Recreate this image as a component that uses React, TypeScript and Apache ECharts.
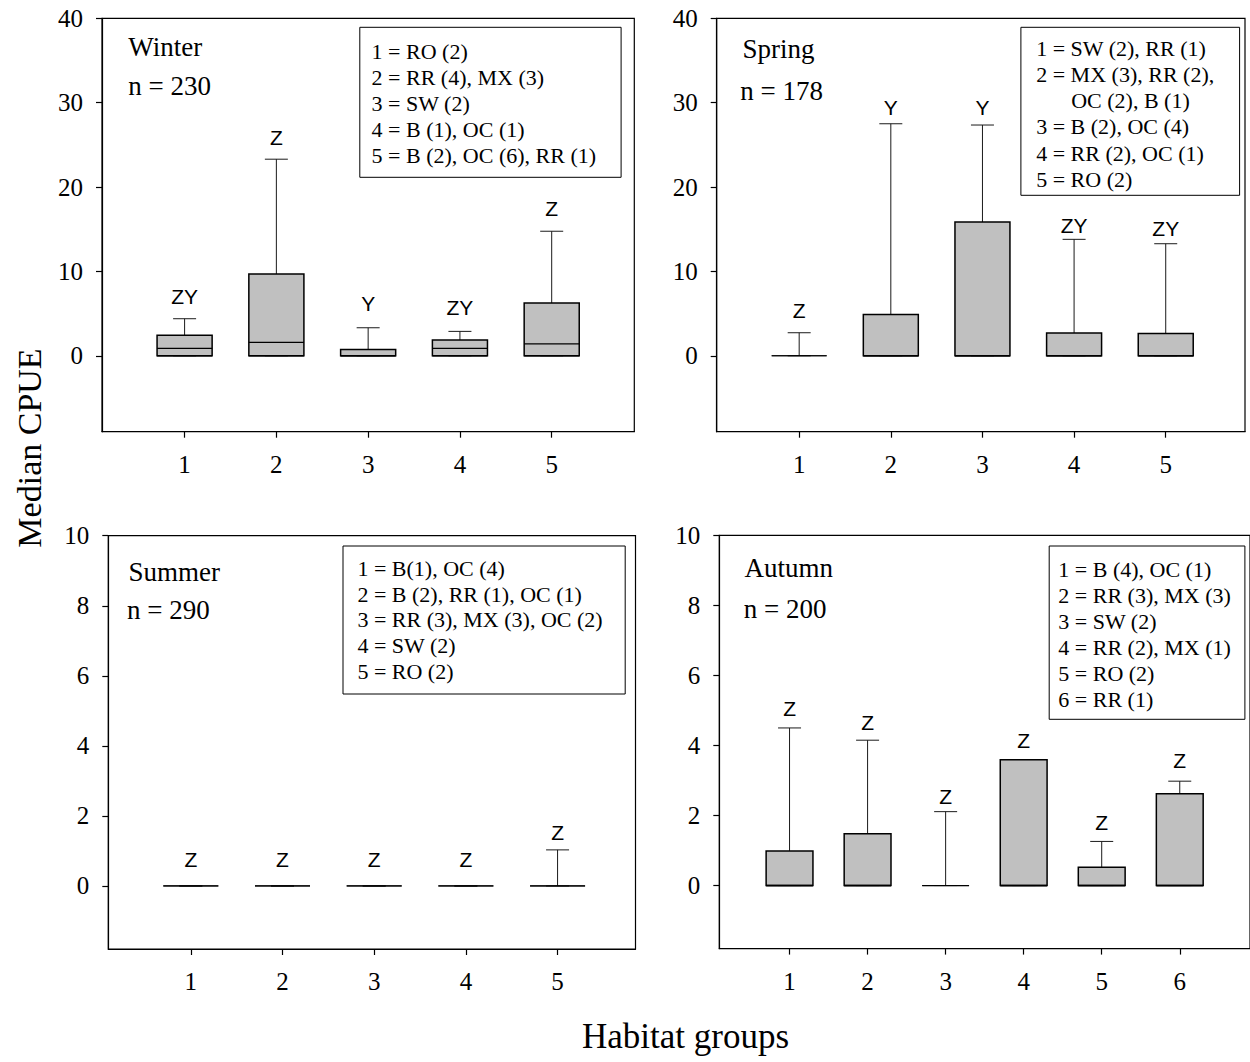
import React, { useEffect, useRef } from "react";
import * as echarts from "echarts";

// ---------- data ----------
const ticks5 = [1, 2, 3, 4, 5];
const ticks6 = [1, 2, 3, 4, 5, 6];
const ticksBig = [0, 10, 20, 30, 40];
const ticksSmall = [0, 2, 4, 6, 8, 10];

// Winter
const winterGroups = [1, 2, 3, 4, 5];
const winterLow = [0, 0, 0, 0, 0];
const winterQ1 = [0, 0, 0, 0, 0];
const winterMedian = [0.87, 1.59, 0, 0.87, 1.42];
const winterQ3 = [2.42, 9.69, 0.75, 1.86, 6.25];
const winterHigh = [4.39, 23.3, 3.32, 2.89, 14.76];
const winterLetters = ["ZY", "Z", "Y", "ZY", "Z"];
const winterLetterY = [7.0, 25.85, 6.21, 5.74, 17.47];
const winterLegend = ["1 = RO (2)", "2 = RR (4), MX (3)", "3 = SW (2)", "4 = B (1), OC (1)", "5 = B (2), OC (6), RR (1)"];

// Spring
const springGroups = [1, 2, 3, 4, 5];
const springLow = [0, 0, 0, 0, 0];
const springQ1 = [0, 0, 0, 0, 0];
const springMedian = [0, 0, 0, 0, 0];
const springQ3 = [0, 4.9, 15.85, 2.69, 2.65];
const springHigh = [2.73, 27.5, 27.35, 13.8, 13.28];
const springLetters = ["Z", "Y", "Y", "ZY", "ZY"];
const springLetterY = [5.42, 29.45, 29.45, 15.5, 15.1];
const springLegend = ["1 = SW (2), RR (1)", "2 = MX (3), RR (2),", "OC (2), B (1)", "3 = B (2), OC (4)", "4 = RR (2), OC (1)", "5 = RO (2)"];

// Summer
const summerGroups = [1, 2, 3, 4, 5];
const summerLow = [0, 0, 0, 0, 0];
const summerQ1 = [0, 0, 0, 0, 0];
const summerMedian = [0, 0, 0, 0, 0];
const summerQ3 = [0, 0, 0, 0, 0];
const summerHigh = [0, 0, 0, 0, 1.03];
const summerLetters = ["Z", "Z", "Z", "Z", "Z"];
const summerLetterY = [0.76, 0.76, 0.76, 0.76, 1.52];
const summerLegend = ["1 = B(1), OC (4)", "2 = B (2), RR (1), OC (1)", "3 = RR (3), MX (3), OC (2)", "4 = SW (2)", "5 = RO (2)"];

// Autumn
const autumnGroups = [1, 2, 3, 4, 5, 6];
const autumnLow = [0, 0, 0, 0, 0, 0];
const autumnQ1 = [0, 0, 0, 0, 0, 0];
const autumnMedian = [0, 0, 0, 0, 0, 0];
const autumnQ3 = [0.99, 1.48, 0, 3.59, 0.52, 2.62];
const autumnHigh = [4.5, 4.15, 2.11, 3.59, 1.26, 2.98];
const autumnLetters = ["Z", "Z", "Z", "Z", "Z", "Z"];
const autumnLetterY = [5.05, 4.65, 2.54, 4.14, 1.81, 3.57];
const autumnLegend = ["1 = B (4), OC (1)", "2 = RR (3), MX (3)", "3 = SW (2)", "4 = RR (2), MX (1)", "5 = RO (2)", "6 = RR (1)"];

const panelTitles = ["Winter", "Spring", "Summer", "Autumn"];
const panelN = ["n = 230", "n = 178", "n = 290", "n = 200"];

// ---------- styles ----------
const SERIF = "Liberation Serif";
const SANS = "Liberation Sans";

type Panel = {
  groups: number[]; low: number[]; q1: number[]; med: number[]; q3: number[]; high: number[];
  letters: string[]; letterY: number[];
  grid: { left: number; top: number; width: number; height: number };
  xMin: number; xMax: number; xTicks: number[];
  yMin: number; yMax: number; yTicks: number[];
};

const panels: Panel[] = [
  {
    groups: winterGroups, low: winterLow, q1: winterQ1, med: winterMedian, q3: winterQ3, high: winterHigh,
    letters: winterLetters, letterY: winterLetterY,
    grid: { left: 102, top: 18.3, width: 532.3, height: 413.4 },
    xMin: 0.1, xMax: 5.9, xTicks: ticks5, yMin: -9, yMax: 40, yTicks: ticksBig,
  },
  {
    groups: springGroups, low: springLow, q1: springQ1, med: springMedian, q3: springQ3, high: springHigh,
    letters: springLetters, letterY: springLetterY,
    grid: { left: 716.7, top: 18.3, width: 528.3, height: 413.4 },
    xMin: 0.1, xMax: 5.865, xTicks: ticks5, yMin: -9, yMax: 40, yTicks: ticksBig,
  },
  {
    groups: summerGroups, low: summerLow, q1: summerQ1, med: summerMedian, q3: summerQ3, high: summerHigh,
    letters: summerLetters, letterY: summerLetterY,
    grid: { left: 108.3, top: 535.7, width: 527.2, height: 413.3 },
    xMin: 0.1, xMax: 5.85, xTicks: ticks5, yMin: -1.8, yMax: 10, yTicks: ticksSmall,
  },
  {
    groups: autumnGroups, low: autumnLow, q1: autumnQ1, med: autumnMedian, q3: autumnQ3, high: autumnHigh,
    letters: autumnLetters, letterY: autumnLetterY,
    grid: { left: 719.3, top: 535.3, width: 532, height: 413.3 },
    xMin: 0.1, xMax: 6.9, xTicks: ticks6, yMin: -1.8, yMax: 10, yTicks: ticksSmall,
  },
];

function boxRenderItem(params: any, api: any) {
  const x = api.value(0);
  const low = api.value(1), q1 = api.value(2), med = api.value(3), q3 = api.value(4), high = api.value(5);
  const unit = api.size([1, 0])[0];
  const half = unit * 0.3;
  const cap = 11.5;
  const cx = api.coord([x, 0])[0];
  const yLow = api.coord([x, low])[1];
  const yQ1 = api.coord([x, q1])[1];
  const yMed = api.coord([x, med])[1];
  const yQ3 = api.coord([x, q3])[1];
  const yHigh = api.coord([x, high])[1];
  const thin = { stroke: "#1a1a1a", lineWidth: 1 };
  const children: any[] = [
    { type: "line", shape: { x1: cx, y1: yQ3, x2: cx, y2: yHigh }, style: thin },
    { type: "line", shape: { x1: cx - cap, y1: yHigh, x2: cx + cap, y2: yHigh }, style: thin },
    { type: "line", shape: { x1: cx, y1: yQ1, x2: cx, y2: yLow }, style: thin },
    { type: "line", shape: { x1: cx - cap, y1: yLow, x2: cx + cap, y2: yLow }, style: thin },
  ];
  if (yQ1 - yQ3 > 0.5) {
    children.push({
      type: "rect",
      shape: { x: cx - half, y: yQ3, width: 2 * half, height: yQ1 - yQ3 },
      style: { fill: "#c0c0c0", stroke: "#000", lineWidth: 1.5 },
    });
  }
  children.push({ type: "line", shape: { x1: cx - half, y1: yQ1, x2: cx + half, y2: yQ1 }, style: { stroke: "#000", lineWidth: yQ1 - yQ3 > 0.5 ? 1.5 : 1 } });
  children.push({ type: "line", shape: { x1: cx - half, y1: yMed, x2: cx + half, y2: yMed }, style: { stroke: "#000", lineWidth: 1.2 } });
  return { type: "group", children };
}

function letterRenderItem(letters: string[]) {
  return (params: any, api: any) => {
    const p = api.coord([api.value(0), api.value(1)]);
    return {
      type: "text",
      x: p[0],
      y: p[1],
      style: {
        text: letters[params.dataIndex],
        fontSize: 21,
        fontFamily: SANS,
        fill: "#000",
        align: "center",
        verticalAlign: "middle",
      },
    };
  };
}

function serifText(text: string, x: number, y: number, size: number, extra: any = {}) {
  const align = extra.align || "left";
  const { align: _a, ...rest } = extra;
  return {
    type: "text",
    x,
    y,
    ...rest,
    style: {
      text,
      fontSize: size,
      fontFamily: SERIF,
      fill: "#000",
      align,
      verticalAlign: "middle",
    },
  };
}

function legendGraphic(lines: string[], box: number[], textX: number, firstY: number, step: number, indentIdx: number[] = [], indent = 0) {
  const out: any[] = [
    {
      type: "rect",
      shape: { x: box[0], y: box[1], width: box[2], height: box[3] },
      style: { fill: "#fff", stroke: "#000", lineWidth: 1 },
      z: 10,
    },
  ];
  lines.forEach((t, i) => {
    const el: any = serifText(t, textX + (indentIdx.includes(i) ? indent : 0), firstY + i * step, 22);
    el.z = 11;
    out.push(el);
  });
  return out;
}

export default function App() {
  const ref = useRef<HTMLDivElement>(null);
  useEffect(() => {
    if (!ref.current) return;
    const chart = echarts.init(ref.current, undefined, { renderer: "svg" });
    const axisLineStyle = { color: "#000", width: 1.2 };
    const grids = panels.map((p) => ({
      ...p.grid,
      show: true,
      borderColor: "#000",
      borderWidth: 1.2,
      containLabel: false,
    }));
    const xAxes = panels.map((p, i) => ({
      type: "value",
      gridIndex: i,
      min: p.xMin,
      max: p.xMax,
      axisLine: { show: true, onZero: false, lineStyle: axisLineStyle },
      axisTick: { show: true, inside: false, length: 6, customValues: p.xTicks, lineStyle: axisLineStyle },
      axisLabel: { show: true, customValues: p.xTicks, margin: 20, fontSize: 25, fontFamily: SERIF, color: "#000" },
      splitLine: { show: false },
    }));
    const yAxes = panels.map((p, i) => ({
      type: "value",
      gridIndex: i,
      min: p.yMin,
      max: p.yMax,
      axisLine: { show: true, onZero: false, lineStyle: axisLineStyle },
      axisTick: { show: true, inside: false, length: 6, customValues: p.yTicks, lineStyle: axisLineStyle },
      axisLabel: { show: true, customValues: p.yTicks, margin: 19, fontSize: 25, fontFamily: SERIF, color: "#000" },
      splitLine: { show: false },
    }));
    const series: any[] = [];
    panels.forEach((p, i) => {
      series.push({
        type: "custom",
        xAxisIndex: i,
        yAxisIndex: i,
        renderItem: boxRenderItem,
        encode: { x: 0, y: [1, 2, 3, 4, 5] },
        data: p.groups.map((g, k) => [g, p.low[k], p.q1[k], p.med[k], p.q3[k], p.high[k]]),
        clip: false,
        z: 3,
      });
      series.push({
        type: "custom",
        xAxisIndex: i,
        yAxisIndex: i,
        renderItem: letterRenderItem(p.letters),
        encode: { x: 0, y: 1 },
        data: p.groups.map((g, k) => [g, p.letterY[k]]),
        clip: false,
        z: 4,
      });
    });

    const graphic: any[] = [
      serifText(panelTitles[0], 128.3, 46.7, 27),
      serifText(panelN[0], 128.3, 85.7, 27),
      serifText(panelTitles[1], 742.5, 49, 27),
      serifText(panelN[1], 740.3, 90.5, 27),
      serifText(panelTitles[2], 128.6, 572.3, 27),
      serifText(panelN[2], 127.1, 610, 27),
      serifText(panelTitles[3], 744.4, 568.3, 27),
      serifText(panelN[3], 743.7, 609.3, 27),
      ...legendGraphic(winterLegend, [359.8, 27.3, 261.3, 150], 371.6, 51.7, 26),
      ...legendGraphic(springLegend, [1020.9, 27.3, 218.7, 168], 1036.2, 48.3, 26.2, [2], 35),
      ...legendGraphic(summerLegend, [343, 546, 282.2, 148], 357.4, 568.3, 25.8),
      ...legendGraphic(autumnLegend, [1049.2, 546, 195.7, 173.3], 1058.3, 569.3, 26.1),
      serifText("Median CPUE", 29, 448, 34, { rotation: Math.PI / 2, align: "center" }),
      serifText("Habitat groups", 685.5, 1036, 35, { align: "center" }),
    ];

    chart.setOption({
      animation: false,
      backgroundColor: "#fff",
      grid: grids,
      xAxis: xAxes,
      yAxis: yAxes,
      series,
      graphic,
    });
    return () => chart.dispose();
  }, []);
  return (
    <div
      ref={ref}
      style={{ position: "absolute", left: 0, top: 0, width: 1250, height: 1062, background: "#fff" }}
    />
  );
}
